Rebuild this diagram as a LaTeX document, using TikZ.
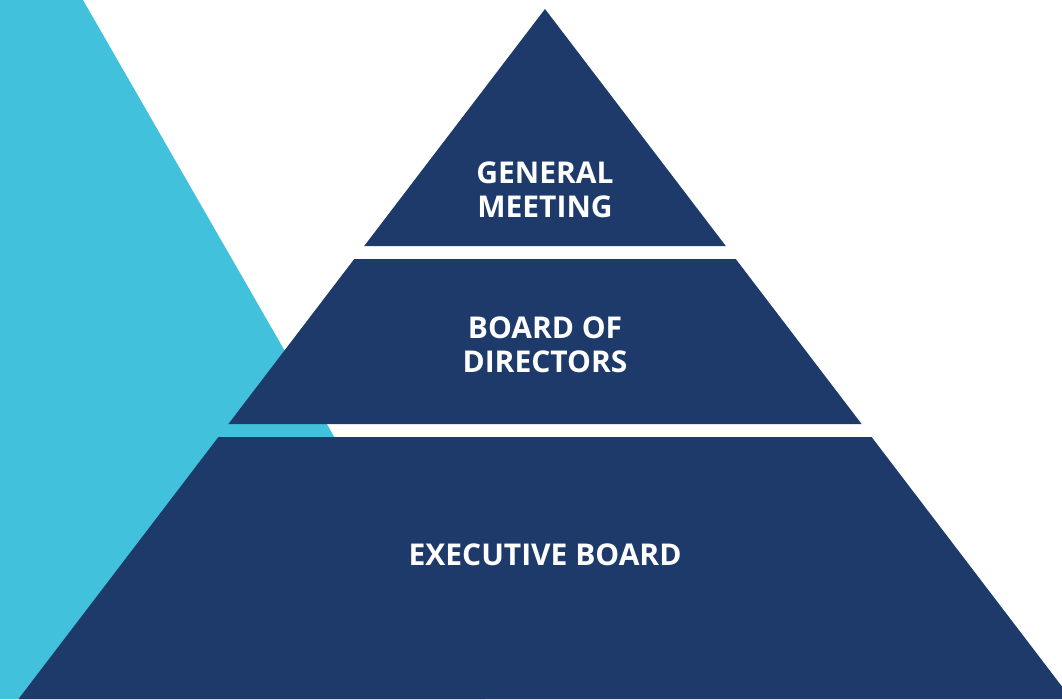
\documentclass[tikz,border=0pt]{standalone}
\usepackage{fontspec}
\setmainfont{Open Sans}
\usepackage{tikz}

\begin{document}
\begin{tikzpicture}[x=0.75pt,y=0.75pt,yscale=-1,xscale=1,
        tierlabel/.style={text=white, align=center, inner sep=0.75pt, font=\fontsize{22.5}{25.8}\selectfont\bfseries}]
        \useasboundingbox (0,0) rectangle (1062,699);
        \clip (0,0) rectangle (1062,699);

        %Shape: Polygon [cyan back triangle]
        \draw  [draw=none, fill={rgb, 255:red, 65; green, 193; blue, 220 }  ,fill opacity=1 ] (0,0) -- (83,0) -- (485,699) -- (0,699) -- cycle ;
        %Shape: Polygon [top tier]
        \draw  [draw=none, fill={rgb, 255:red, 29; green, 58; blue, 106 }  ,fill opacity=1 ] (545,9) -- (725.8,246) -- (364.2,246) -- cycle ;
        %Shape: Polygon [middle tier]
        \draw  [draw=none, fill={rgb, 255:red, 29; green, 58; blue, 106 }  ,fill opacity=1 ] (354.25,259) -- (735.75,259) -- (861.6,424) -- (228.4,424) -- cycle ;
        %Shape: Polygon [bottom tier]
        \draw  [draw=none, fill={rgb, 255:red, 29; green, 58; blue, 106 }  ,fill opacity=1 ] (218.4,437) -- (871.6,437) -- (1071.5,699) -- (18.5,699) -- cycle ;

        % Text Node
        \node (general) [tierlabel] at (545,190) {GENERAL\\MEETING};
        % Text Node
        \node (board) [tierlabel] at (545,345) {BOARD OF\\DIRECTORS};
        % Text Node
        \node (executive) [tierlabel] at (545,555) {EXECUTIVE BOARD};

    \end{tikzpicture}
\end{document}
